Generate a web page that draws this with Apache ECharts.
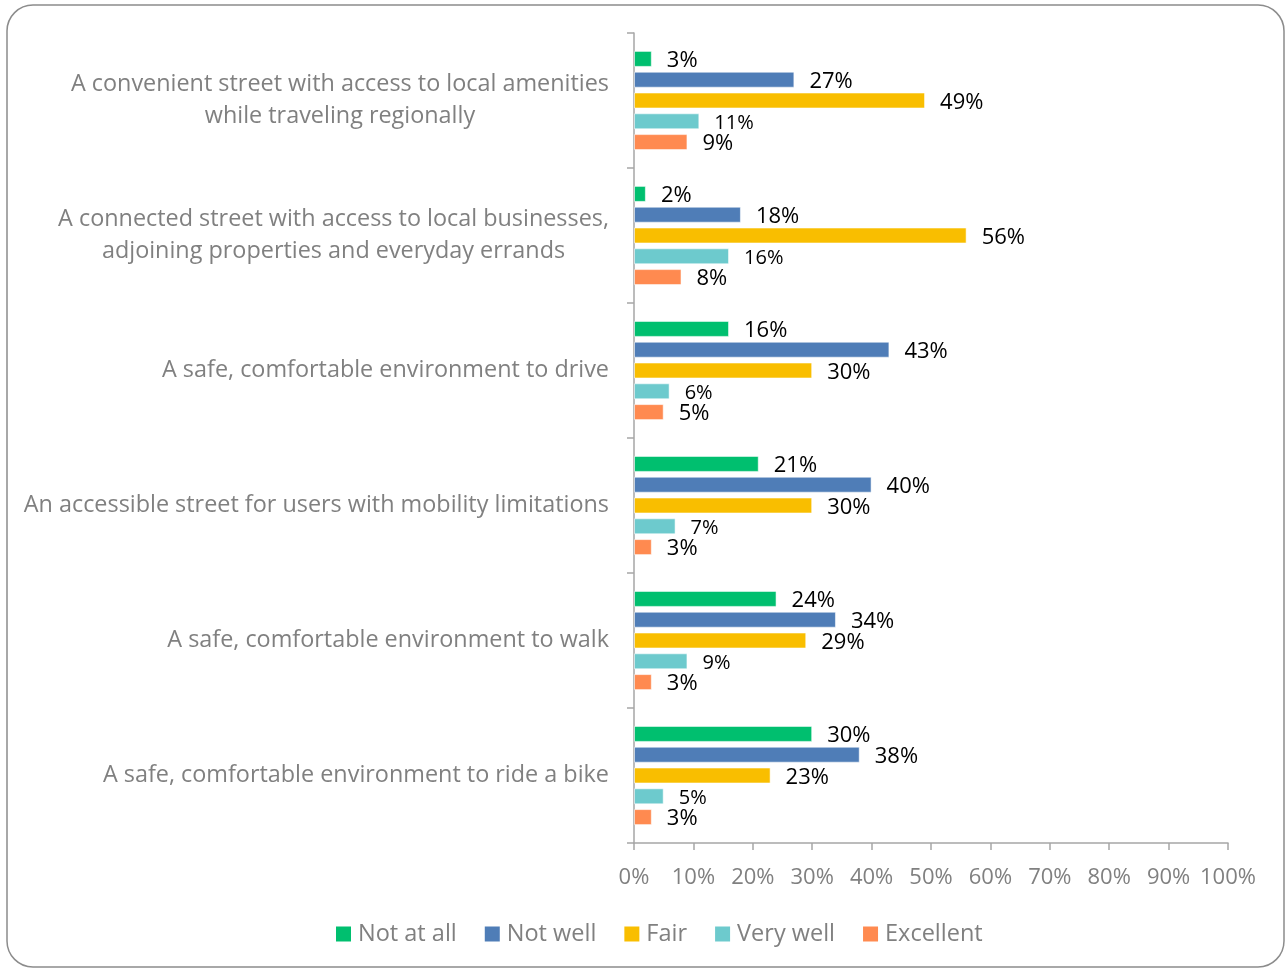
<!DOCTYPE html>
<html>
<head>
<meta charset="utf-8">
<title>Street priorities</title>
<script src="https://cdn.jsdelivr.net/npm/echarts@6/dist/echarts.min.js"></script>
<style>
  html, body { margin: 0; padding: 0; background: #ffffff; }
  #chart { width: 1287px; height: 971px; }
</style>
</head>
<body>
<div id="chart"></div>
<script>
// Statements rated by respondents (top to bottom)
const categories = [
  'A convenient street with access to local amenities\nwhile traveling regionally',
  'A connected street with access to local businesses,\nadjoining properties and everyday errands',
  'A safe, comfortable environment to drive',
  'An accessible street for users with mobility limitations',
  'A safe, comfortable environment to walk',
  'A safe, comfortable environment to ride a bike'
];

// Rating scale
const seriesNames = ['Not at all', 'Not well', 'Fair', 'Very well', 'Excellent'];

// Share of responses (%) per rating, in category order
const notAtAll = [3, 2, 16, 21, 24, 30];
const notWell  = [27, 18, 43, 40, 34, 38];
const fair     = [49, 56, 30, 30, 29, 23];
const veryWell = [11, 16, 6, 7, 9, 5];
const excellent = [9, 8, 5, 3, 3, 3];

// Axis ticks (%)
const xTicks = [0, 10, 20, 30, 40, 50, 60, 70, 80, 90, 100];

const colors = ['#00BF6F', '#4F7DB7', '#F9BE00', '#6DCACD', '#FF8A50'];
const seriesData = [notAtAll, notWell, fair, veryWell, excellent];

const FONT = '"Open Sans"';
const GRAY = '#808080';

const chart = echarts.init(document.getElementById('chart'), null, { renderer: 'canvas' });

const series = seriesNames.map((name, i) => ({
  name: name,
  type: 'bar',
  data: seriesData[i],
  barWidth: 16,
  barGap: '30%',
  itemStyle: {
    color: colors[i],
    borderColor: 'rgba(255,255,255,0.55)',
    borderWidth: 1
  },
  label: {
    show: true,
    position: 'right',
    distance: 15,
    offset: [0, 2],
    formatter: '{c}%',
    color: '#000000',
    fontFamily: FONT,
    fontSize: i === 3 ? 20 : 22
  },
  emphasis: { disabled: true }
}));

chart.setOption({
  animation: false,
  textStyle: { fontFamily: FONT },
  graphic: [{
    type: 'rect',
    shape: { x: 7, y: 5, width: 1277, height: 962, r: 26 },
    style: { fill: 'none', stroke: '#8c8c8c', lineWidth: 1.5 },
    silent: true,
    z: -10
  }],
  grid: {
    left: 634,
    right: 59,
    top: 33,
    bottom: 128,
    containLabel: false
  },
  legend: {
    data: seriesNames,
    bottom: 20,
    left: 331,
    icon: 'rect',
    itemWidth: 15,
    itemHeight: 15,
    itemGap: 28,
    itemStyle: { borderWidth: 0 },
    textStyle: { color: GRAY, fontSize: 23.5, fontFamily: FONT, padding: [0, 0, 0, 2] },
    selectedMode: false
  },
  xAxis: {
    type: 'value',
    min: 0,
    max: 100,
    interval: 10,
    axisLine: { show: true, lineStyle: { color: '#a6a6a6', width: 1.5 } },
    axisTick: { show: true, length: 7, lineStyle: { color: '#a6a6a6', width: 1.5 } },
    splitLine: { show: false },
    axisLabel: {
      margin: 24,
      color: GRAY,
      fontSize: 22,
      fontFamily: FONT,
      customValues: xTicks,
      formatter: v => v + '%'
    }
  },
  yAxis: {
    type: 'category',
    data: categories,
    inverse: true,
    axisLine: { show: true, lineStyle: { color: '#a6a6a6', width: 1.5 } },
    axisTick: { show: true, length: 7, inside: false, lineStyle: { color: '#a6a6a6', width: 1.5 } },
    splitLine: { show: false },
    axisLabel: {
      margin: 25,
      color: GRAY,
      fontFamily: FONT,
      fontSize: 23.4,
      lineHeight: 32,
      formatter: v => '{c|' + v + '}',
      rich: {
        c: { align: 'center', color: GRAY, fontSize: 23.4, lineHeight: 32, fontFamily: FONT }
      }
    }
  },
  series: series
});
</script>
</body>
</html>
